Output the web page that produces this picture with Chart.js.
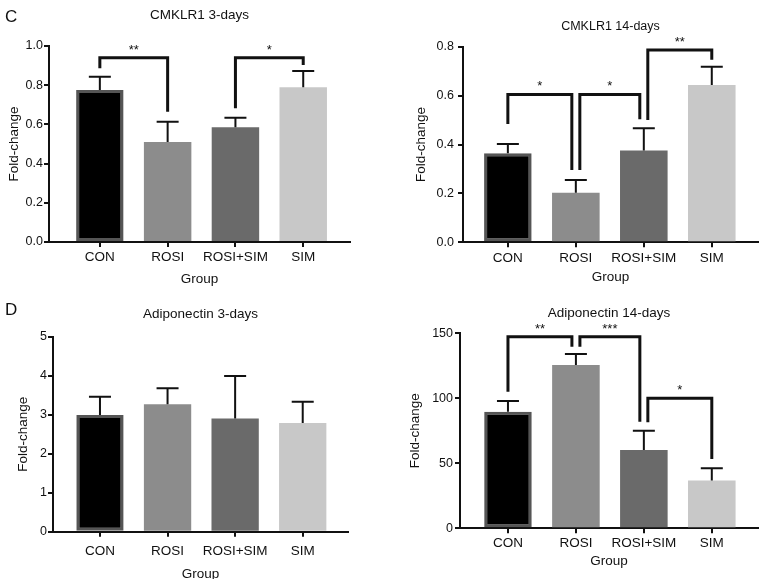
<!DOCTYPE html>
<html><head><meta charset="utf-8">
<script src="https://cdn.jsdelivr.net/npm/chart.js@4.4.1/dist/chart.umd.min.js"></script>
<style>
html,body{margin:0;padding:0;background:#fff;overflow:hidden}
#wrap{position:relative;width:765px;height:579px;overflow:hidden;background:#fff}
canvas{position:absolute}
.lab{position:absolute;font:17px/17px "Liberation Sans",Arial,sans-serif;color:#111}
</style></head><body>
<div id="wrap">
<canvas id="c1" width="380" height="300" style="left:0;top:0;width:380px;height:300px"></canvas>
<canvas id="c2" width="380" height="300" style="left:385px;top:0;width:380px;height:300px"></canvas>
<canvas id="c3" width="380" height="300" style="left:0;top:292px;width:380px;height:300px"></canvas>
<canvas id="c4" width="380" height="300" style="left:385px;top:292px;width:380px;height:300px"></canvas>
<div class="lab" style="left:5px;top:8px">C</div>
<div class="lab" style="left:5px;top:301px">D</div>
</div>
<script>
// ---------- data ----------
const categories = ['CON', 'ROSI', 'ROSI+SIM', 'SIM'];

const cmklr1Day3Mean = [0.776, 0.51, 0.585, 0.79];
const cmklr1Day3Err  = [0.067, 0.104, 0.049, 0.082];
const cmklr1Day3Ticks = [0, 0.2, 0.4, 0.6, 0.8, 1.0];
const cmklr1Day3TickLabels = ['0.0', '0.2', '0.4', '0.6', '0.8', '1.0'];
const cmklr1Day3Brackets = [
  {from: 0, to: 1, top: 0.94, leftEnd: 0.886, rightEnd: 0.665, label: '**'},
  {from: 2, to: 3, top: 0.94, leftEnd: 0.682, rightEnd: 0.903, label: '*'}
];

const cmklr1Day14Mean = [0.364, 0.203, 0.375, 0.643];
const cmklr1Day14Err  = [0.038, 0.052, 0.091, 0.075];
const cmklr1Day14Ticks = [0, 0.2, 0.4, 0.6, 0.8];
const cmklr1Day14TickLabels = ['0.0', '0.2', '0.4', '0.6', '0.8'];
const cmklr1Day14Brackets = [
  {from: 0, to: 1, top: 0.605, leftEnd: 0.484, rightEnd: 0.296, label: '*'},
  {from: 1, to: 2, top: 0.605, leftEnd: 0.296, rightEnd: 0.503, label: '*'},
  {from: 2, to: 3, top: 0.787, leftEnd: 0.50, rightEnd: 0.747, label: '**'}
];

const adipoDay3Mean = [2.99, 3.27, 2.90, 2.79];
const adipoDay3Err  = [0.47, 0.41, 1.09, 0.54];
const adipoDay3Ticks = [0, 1, 2, 3, 4, 5];
const adipoDay3TickLabels = ['0', '1', '2', '3', '4', '5'];
const adipoDay3Brackets = [];

const adipoDay14Mean = [89.7, 125.6, 60.2, 36.8];
const adipoDay14Err  = [8.2, 8.4, 14.9, 9.4];
const adipoDay14Ticks = [0, 50, 100, 150];
const adipoDay14TickLabels = ['0', '50', '100', '150'];
const adipoDay14Brackets = [
  {from: 0, to: 1, top: 147.4, leftEnd: 105, rightEnd: 139.7, label: '**'},
  {from: 1, to: 2, top: 147.4, leftEnd: 139.7, rightEnd: 82, label: '***'},
  {from: 2, to: 3, top: 100, leftEnd: 81.5, rightEnd: 53.3, label: '*'}
];

// ---------- styles ----------
const FONT = '"Liberation Sans", Arial, Helvetica, sans-serif';
Chart.defaults.font.family = FONT;
Chart.defaults.color = '#111';
const barColors = ['#000000', '#8c8c8c', '#6a6a6a', '#c8c8c8'];
const barBorderColors = ['#555555', '#8c8c8c', '#6a6a6a', '#c8c8c8'];
const barBorderWidths = [3, 0, 0, 0];

const annotate = {
  id: 'annotate',
  afterDatasetsDraw(chart, args, opts) {
    const ctx = chart.ctx, xs = chart.scales.x, ys = chart.scales.y;
    const meta = chart.getDatasetMeta(0);
    const pts = chart.data.datasets[0].data;
    ctx.save();
    ctx.strokeStyle = '#111';
    ctx.lineCap = 'butt';
    ctx.lineWidth = 2;
    opts.errors.forEach((e, i) => {
      const cx = meta.data[i].x;
      const top = ys.getPixelForValue(pts[i].y + e);
      const base = ys.getPixelForValue(pts[i].y);
      ctx.beginPath();
      ctx.moveTo(cx, base); ctx.lineTo(cx, top);
      ctx.moveTo(cx - 11, top); ctx.lineTo(cx + 11, top);
      ctx.stroke();
    });
    ctx.lineWidth = 3;
    ctx.lineJoin = 'miter';
    ctx.fillStyle = '#111';
    ctx.font = '13px ' + FONT;
    ctx.textAlign = 'center';
    ctx.textBaseline = 'alphabetic';
    opts.brackets.forEach(b => {
      const shL = opts.brackets.some(o => o !== b && o.to === b.from) ? 4 : 0;
      const shR = opts.brackets.some(o => o !== b && o.from === b.to) ? -4 : 0;
      const x1 = xs.getPixelForValue(b.from) + shL;
      const x2 = xs.getPixelForValue(b.to) + shR;
      const yt = ys.getPixelForValue(b.top);
      ctx.beginPath();
      ctx.moveTo(x1, ys.getPixelForValue(b.leftEnd));
      ctx.lineTo(x1, yt);
      ctx.lineTo(x2, yt);
      ctx.lineTo(x2, ys.getPixelForValue(b.rightEnd));
      ctx.stroke();
      ctx.fillText(b.label, (x1 + x2) / 2, yt - 4);
    });
    ctx.restore();
  }
};

function panel(id, s) {
  const L = s.layout;
  const titleLH = s.titleSize * 1.2;
  const axisLH = 13.5 * 1.2;
  const xTickLH = 13.5 * 1.2;
  const axisBorder = {display: true, color: '#111', width: 2};
  return new Chart(document.getElementById(id), {
    type: 'bar',
    data: {
      datasets: [{
        data: s.means.map((v, i) => ({x: i, y: v})),
        backgroundColor: barColors,
        borderColor: barBorderColors,
        borderWidth: barBorderWidths,
        borderSkipped: false,
        barPercentage: 0.7,
        categoryPercentage: 1
      }]
    },
    options: {
      responsive: false,
      animation: false,
      layout: {padding: {left: 0, top: 0, right: L.w - L.right, bottom: 0}},
      plugins: {
        legend: {display: false},
        tooltip: {enabled: false},
        title: {
          display: true, text: s.title, fullSize: false, color: '#111',
          font: {size: s.titleSize, weight: 'normal'},
          padding: {top: L.titleY - titleLH / 2, bottom: L.top - L.titleY - titleLH / 2}
        },
        annotate: {errors: s.errs, brackets: s.brackets}
      },
      scales: {
        x: {
          type: 'linear', min: s.xMin, max: s.xMax, offset: false,
          afterBuildTicks: sc => { sc.ticks = categories.map((c, i) => ({value: i})); },
          afterFit: sc => { sc.height = L.h - L.bottom; },
          ticks: {
            callback: (v, i) => categories[i], font: {size: 13.5}, color: '#111',
            padding: L.xTickY - xTickLH / 2 - L.bottom - 5, maxRotation: 0, autoSkip: false
          },
          grid: {display: true, offset: false, drawOnChartArea: false, drawTicks: true, tickLength: 5, color: '#111', lineWidth: 2},
          border: axisBorder,
          title: {display: true, text: 'Group', color: '#111', font: {size: 13.5},
                  padding: {top: 0, bottom: L.h - L.groupY - axisLH / 2}}
        },
        y: {
          min: 0, max: s.ticks[s.ticks.length - 1],
          afterBuildTicks: sc => { sc.ticks = s.ticks.map(v => ({value: v})); },
          afterFit: sc => { sc.width = L.left; },
          ticks: {callback: (v, i) => s.tickLabels[i], font: {size: 12.5}, color: '#111', padding: L.yTickPad},
          grid: {display: true, offset: false, drawOnChartArea: false, drawTicks: true, tickLength: 5, color: '#111', lineWidth: 2},
          border: axisBorder,
          title: {display: true, text: 'Fold-change', color: '#111', font: {size: 13.5},
                  padding: {top: L.yTitleX - axisLH / 2, bottom: 0}}
        }
      }
    },
    plugins: [annotate]
  });
}

panel('c1', {
  title: 'CMKLR1 3-days', titleSize: 13.5,
  means: cmklr1Day3Mean, errs: cmklr1Day3Err, ticks: cmklr1Day3Ticks, tickLabels: cmklr1Day3TickLabels,
  brackets: cmklr1Day3Brackets, xMin: -0.75, xMax: 3.69,
  layout: {w: 380, h: 300, left: 49, right: 350, top: 46, bottom: 242, titleY: 15, yTitleX: 14.5, xTickY: 257.5, groupY: 279, yTickPad: 1}
});
panel('c2', {
  title: 'CMKLR1 14-days', titleSize: 12.5,
  means: cmklr1Day14Mean, errs: cmklr1Day14Err, ticks: cmklr1Day14Ticks, tickLabels: cmklr1Day14TickLabels,
  brackets: cmklr1Day14Brackets, xMin: -0.66, xMax: 3.68,
  layout: {w: 380, h: 300, left: 78, right: 373, top: 46.7, bottom: 242.3, titleY: 26.7, yTitleX: 36, xTickY: 258.3, groupY: 277, yTickPad: 4}
});
panel('c3', {
  title: 'Adiponectin 3-days', titleSize: 13.5,
  means: adipoDay3Mean, errs: adipoDay3Err, ticks: adipoDay3Ticks, tickLabels: adipoDay3TickLabels,
  brackets: adipoDay3Brackets, xMin: -0.695, xMax: 3.67,
  layout: {w: 380, h: 300, left: 53, right: 348, top: 44.7, bottom: 239.7, titleY: 22, yTitleX: 23.5, xTickY: 259, groupY: 282.3, yTickPad: 1}
});
panel('c4', {
  title: 'Adiponectin 14-days', titleSize: 13.5,
  means: adipoDay14Mean, errs: adipoDay14Err, ticks: adipoDay14Ticks, tickLabels: adipoDay14TickLabels,
  brackets: adipoDay14Brackets, xMin: -0.706, xMax: 3.68,
  layout: {w: 380, h: 300, left: 75, right: 373, top: 41.3, bottom: 236.3, titleY: 21.3, yTitleX: 30, xTickY: 251.3, groupY: 269.7, yTickPad: 2}
});
</script>
</body></html>
